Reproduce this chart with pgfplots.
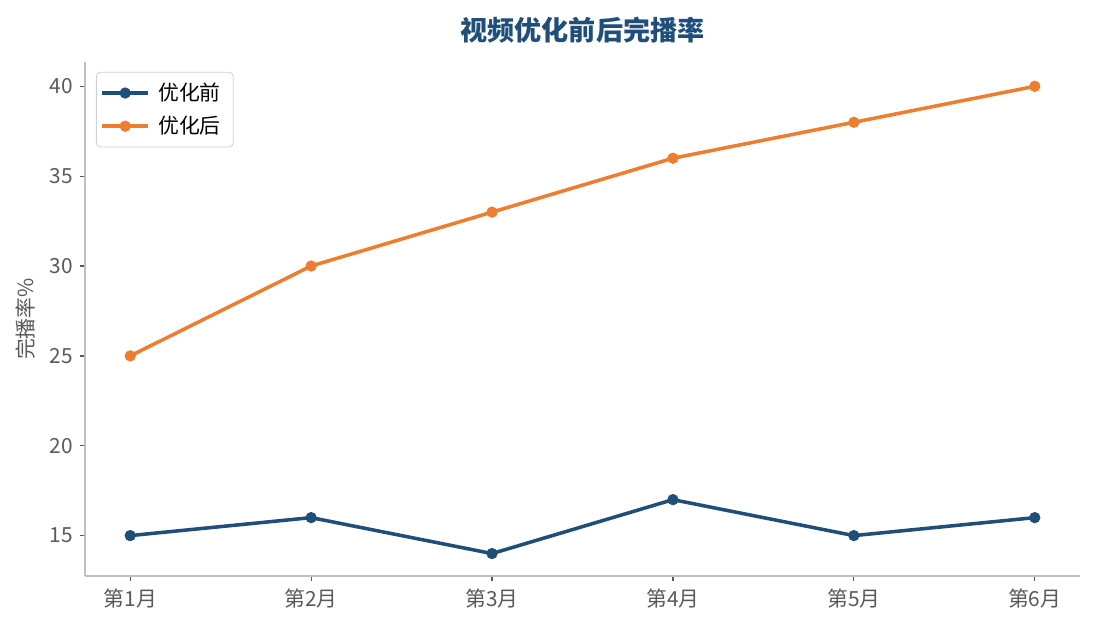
\documentclass[border=0pt]{standalone}
\usepackage{fontspec}
\setmainfont{Noto Sans CJK SC}
\usepackage{pgfplots}
\pgfplotsset{compat=1.18}
\definecolor{cblue}{HTML}{1F4E79}
\definecolor{corange}{HTML}{ED7D31}
\definecolor{axgray}{HTML}{BFBFBF}
\definecolor{txtgray}{HTML}{595959}
\begin{document}
\begin{tikzpicture}
\useasboundingbox (0,0) rectangle (525.6pt,302.4pt);
\begin{axis}[
  at={(40.8pt,25.9pt)}, anchor=south west,
  width=477.6pt, height=246.7pt, scale only axis,
  xmin=-0.25, xmax=5.25, ymin=12.75, ymax=41.35,
  xtick={0,1,2,3,4,5},
  xticklabels={第1月,第2月,第3月,第4月,第5月,第6月},
  ytick={15,20,25,30,35,40},
  axis x line*=bottom, axis y line*=left,
  axis line style={axgray, line width=0.8pt, -},
  tick style={txtgray, line width=0.6pt},
  tick align=outside, major tick length=2.4pt,
  ticklabel style={font=\fontsize{10}{12}\selectfont, text=txtgray},
  /pgf/number format/assume math mode=true,
  ylabel={完播率\%},
  ylabel style={font=\fontsize{10}{12}\selectfont, text=txtgray},
  legend style={at={(0.011,0.981)}, anchor=north west, draw=black!18, rounded corners=2pt,
    font=\fontsize{10}{12}\selectfont, row sep=2pt, inner xsep=2pt, inner ysep=3pt,
    nodes={inner xsep=4pt}},
  legend cell align=left,
  legend image code/.code={\draw[mark repeat=2,mark phase=2] plot coordinates {(0pt,0pt) (11pt,0pt) (22pt,0pt)};},
  every axis plot/.append style={line width=1.7pt, mark=*, mark size=2.5pt},
]
\addplot[cblue, mark options={fill=cblue, draw=cblue, line width=0.4pt}] coordinates {(0,15) (1,16) (2,14) (3,17) (4,15) (5,16)};
\addlegendentry{优化前}
\addplot[corange, mark options={fill=corange, draw=corange, line width=0.4pt}] coordinates {(0,25) (1,30) (2,33) (3,36) (4,38) (5,40)};
\addlegendentry{优化后}
\end{axis}
\node[font=\fontsize{13}{15}\selectfont\bfseries, text=cblue] at (279.6pt,288pt) {视频优化前后完播率};
\end{tikzpicture}
\end{document}
